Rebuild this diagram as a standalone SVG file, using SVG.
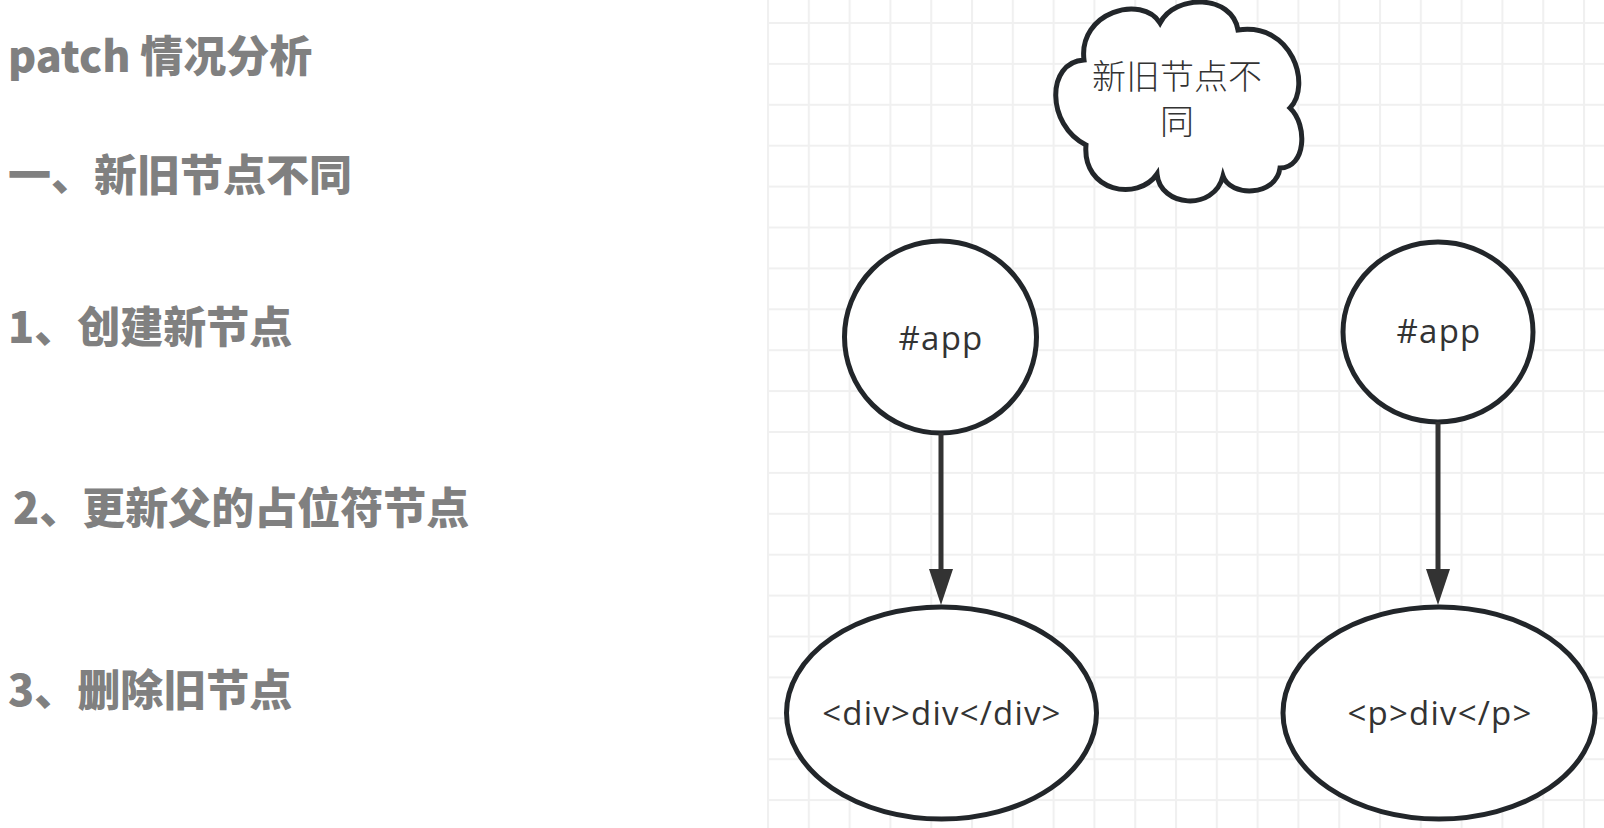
<svg xmlns="http://www.w3.org/2000/svg" width="1604" height="828" viewBox="0 0 1604 828">
<style>
.side{font-family:"Noto Sans CJK SC","Noto Sans",sans-serif;font-weight:900;font-size:43px;fill:#808080}
.node{fill:#ffffff;stroke:#22262a;stroke-width:5}
.lbl{font-family:"Open Sans","Liberation Sans",sans-serif;font-size:33px;letter-spacing:1.2px;fill:#333333;text-anchor:middle}
.cjk{font-family:"Noto Sans CJK SC",sans-serif;font-weight:300;font-size:34px;fill:#333333;text-anchor:middle}
.edge{stroke:#333333;stroke-width:5;fill:none}
</style>
<defs>
<pattern id="grid" patternUnits="userSpaceOnUse" x="767" y="22" width="40.8" height="40.9">
<path d="M0 1H40.8M1 0V40.9" stroke="#f0f0f0" stroke-width="2.2" fill="none"/>
</pattern>
<marker id="arr" markerUnits="userSpaceOnUse" markerWidth="40" markerHeight="30" refX="11" refY="12" orient="auto">
<path d="M0 0L36 12L0 24Z" fill="#333333"/>
</marker>
</defs>
<rect x="0" y="0" width="1604" height="828" fill="#ffffff"/>
<rect x="767" y="0" width="837" height="828" fill="url(#grid)"/>

<g id="notes">
<text class="side" x="8" y="72">patch 情况分析</text>
<text class="side" x="8" y="191">一、新旧节点不同</text>
<text class="side" x="8" y="343">1、创建新节点</text>
<text class="side" x="13" y="524">2、更新父的占位符节点</text>
<text class="side" x="8" y="706">3、删除旧节点</text>
</g>

<g id="cloud">
<path class="node" d="M1084 60C1078 12 1142 -6 1160 23C1175 -6 1232 -6 1238 30C1292 22 1312 85 1290 108C1308 125 1306 168 1280 168C1276 197 1230 197 1223 176C1214 212 1160 207 1157 174C1138 202 1082 192 1086 145C1046 125 1046 62 1084 60Z"/>
<text class="cjk" x="1177" y="89">新旧节点不</text>
<text class="cjk" x="1177" y="134">同</text>
</g>

<g id="app-left">
<ellipse class="node" cx="940.5" cy="337" rx="96" ry="96"/>
<text class="lbl" x="941" y="350">#app</text>
</g>

<g id="app-right">
<ellipse class="node" cx="1438" cy="332" rx="95" ry="90"/>
<text class="lbl" x="1439" y="343">#app</text>
</g>

<g id="div-node">
<ellipse class="node" cx="941.5" cy="713" rx="155" ry="106"/>
<text class="lbl" x="942" y="725">&lt;div&gt;div&lt;/div&gt;</text>
</g>

<g id="p-node">
<ellipse class="node" cx="1439" cy="713" rx="156" ry="106"/>
<text class="lbl" x="1440" y="725">&lt;p&gt;div&lt;/p&gt;</text>
</g>

<g id="connectors">
<line class="edge" x1="941" y1="433" x2="941" y2="580" marker-end="url(#arr)"/>
<line class="edge" x1="1438" y1="422" x2="1438" y2="580" marker-end="url(#arr)"/>
</g>
</svg>
